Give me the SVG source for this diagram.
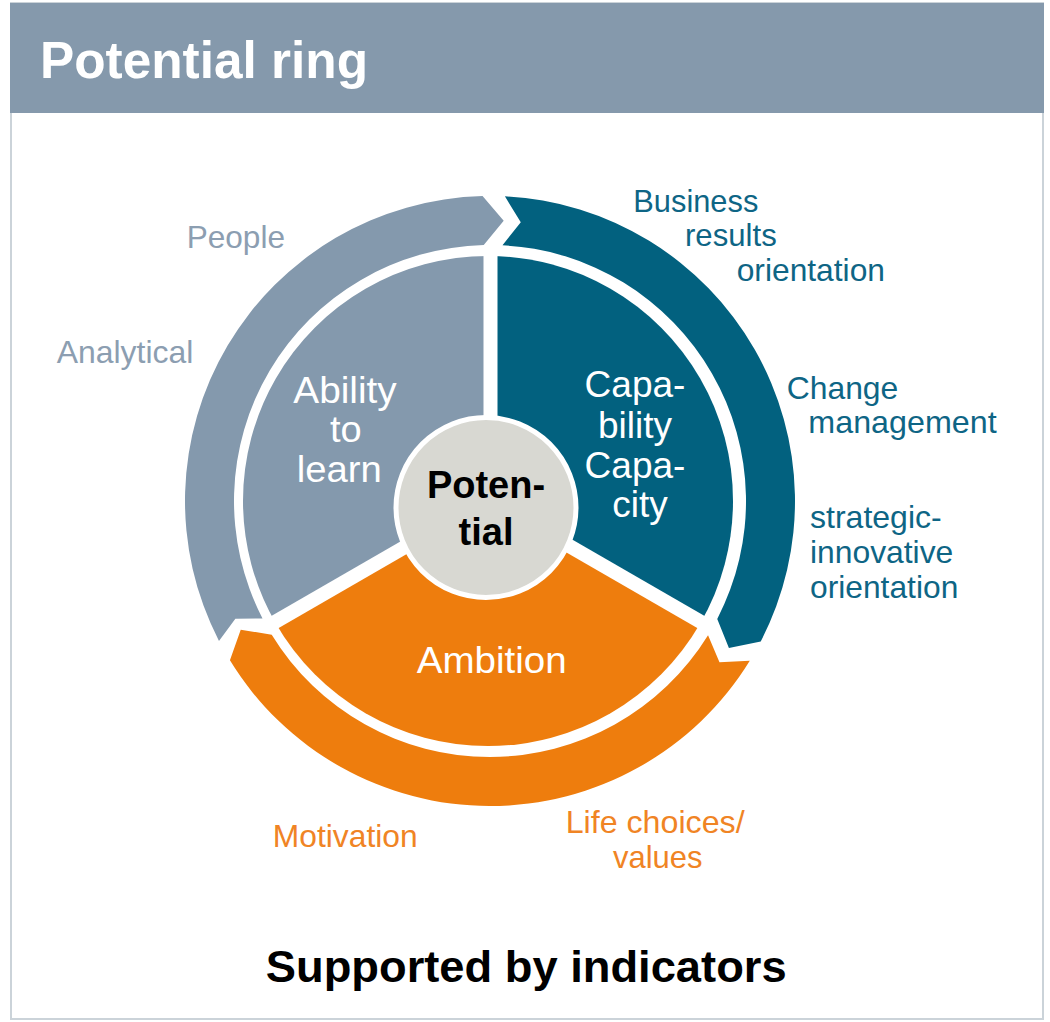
<svg xmlns="http://www.w3.org/2000/svg" width="1050" height="1022" viewBox="0 0 1050 1022">
  <style>
    .lbl { font-family: "Liberation Sans", Arial, sans-serif; font-size: 31.5px; }
    .g-txt { fill: #8C9EB1; }
    .b-txt { fill: #0E6585; }
    .o-txt { fill: #F08424; }
    .inner { font-family: "Liberation Sans", Arial, sans-serif; font-size: 37px; fill: #FFFFFF; }
    .grey { fill: #8499AD; }
    .blue { fill: #02617F; }
    .orange { fill: #EE7D0D; }
    .sep { stroke: #FFFFFF; stroke-width: 14; stroke-linecap: butt; fill: none; }
  </style>

  <!-- frame -->
  <g id="frame">
    <rect x="11" y="3" width="1032" height="1016" fill="#FFFFFF" stroke="#CBD3D9" stroke-width="2"/>
    <rect x="10" y="3" width="1034" height="110" fill="#8599AC"/>
    <text x="40" y="77.5" font-family="Liberation Sans, Arial, sans-serif" font-size="52" font-weight="bold" fill="#FFFFFF" textLength="328" lengthAdjust="spacingAndGlyphs">Potential ring</text>
  </g>

  <!-- ring arrows -->
  <g id="connectors">
    <path id="arrow-grey" class="grey" d="M 218.97 640.89 A 305 305 0 0 1 482.55 196.09 L 503.70 220.83 L 483.75 245.08 A 256 256 0 0 0 262.51 618.41 L 235.37 618.66 Z"/>
    <path id="arrow-blue" class="blue" d="M 504.90 196.36 A 305 305 0 0 1 760.74 641.44 L 728.91 647.98 L 717.25 618.88 A 256 256 0 0 0 502.51 245.30 L 520.78 222.19 Z"/>
    <path id="arrow-orange" class="orange" d="M 749.78 660.82 A 305 305 0 0 1 229.94 660.36 L 240.74 629.65 L 271.72 634.76 A 256 256 0 0 0 708.04 635.14 L 719.49 662.29 Z"/>
  </g>

  <!-- pie sectors -->
  <g id="node-ability">
    <path class="grey" d="M 488 501 L 275.82 623.5 A 245 245 0 0 1 488 256 Z"/>
    <text class="inner" x="293.3" y="402.7" textLength="103.4" lengthAdjust="spacingAndGlyphs">Ability</text>
    <text class="inner" x="330" y="441.7" textLength="31.7" lengthAdjust="spacingAndGlyphs">to</text>
    <text class="inner" x="296.7" y="481.7" textLength="85" lengthAdjust="spacingAndGlyphs">learn</text>
  </g>
  <g id="node-capability">
    <path class="blue" d="M 488 501 L 488 256 A 245 245 0 0 1 700.18 623.5 Z"/>
    <text class="inner" x="635" y="396.7" text-anchor="middle">Capa-</text>
    <text class="inner" x="635" y="438.3" text-anchor="middle">bility</text>
    <text class="inner" x="635" y="478.3" text-anchor="middle">Capa-</text>
    <text class="inner" x="640" y="516.7" text-anchor="middle">city</text>
  </g>
  <g id="node-ambition">
    <path class="orange" d="M 488 501 L 700.18 623.5 A 245 245 0 0 1 275.82 623.5 Z"/>
    <text class="inner" x="416.7" y="673.3" textLength="150" lengthAdjust="spacingAndGlyphs">Ambition</text>
  </g>

  <!-- separators -->
  <g id="separators">
    <line class="sep" x1="490.5" y1="500" x2="490.5" y2="250"/>
    <line class="sep" x1="488" y1="499" x2="267" y2="626.6"/>
    <line class="sep" x1="488" y1="499" x2="709" y2="626.6"/>
  </g>

  <!-- center -->
  <g id="node-potential">
    <circle cx="486" cy="507.5" r="90" fill="#D8D8D2" stroke="#FFFFFF" stroke-width="5"/>
    <text x="486" y="498.3" text-anchor="middle" font-family="Liberation Sans, Arial, sans-serif" font-size="38" font-weight="bold" fill="#000000">Poten-</text>
    <text x="486" y="545" text-anchor="middle" font-family="Liberation Sans, Arial, sans-serif" font-size="38" font-weight="bold" fill="#000000">tial</text>
  </g>

  <!-- indicator labels -->
  <g id="labels-grey" class="lbl g-txt">
    <text x="186.7" y="248.3" textLength="98.3" lengthAdjust="spacingAndGlyphs">People</text>
    <text x="56.7" y="362.7" textLength="136.7" lengthAdjust="spacingAndGlyphs">Analytical</text>
  </g>
  <g id="labels-blue" class="lbl b-txt">
    <text x="633.3" y="211.7" textLength="125" lengthAdjust="spacingAndGlyphs">Business</text>
    <text x="685" y="246.3" textLength="91.7" lengthAdjust="spacingAndGlyphs">results</text>
    <text x="736.7" y="281" textLength="148.3" lengthAdjust="spacingAndGlyphs">orientation</text>
    <text x="786.7" y="399.3" textLength="111.6" lengthAdjust="spacingAndGlyphs">Change</text>
    <text x="808.3" y="433" textLength="188.4" lengthAdjust="spacingAndGlyphs">management</text>
    <text x="810" y="528.3" textLength="131.7" lengthAdjust="spacingAndGlyphs">strategic-</text>
    <text x="810" y="563.3" textLength="143.3" lengthAdjust="spacingAndGlyphs">innovative</text>
    <text x="810" y="598.3" textLength="148.3" lengthAdjust="spacingAndGlyphs">orientation</text>
  </g>
  <g id="labels-orange" class="lbl o-txt">
    <text x="272.8" y="846.7" textLength="144.9" lengthAdjust="spacingAndGlyphs">Motivation</text>
    <text x="565.7" y="832.7" textLength="178.9" lengthAdjust="spacingAndGlyphs">Life choices/</text>
    <text x="613" y="868.3" textLength="89.5" lengthAdjust="spacingAndGlyphs">values</text>
  </g>

  <g id="footer">
    <text x="265.8" y="981.7" font-family="Liberation Sans, Arial, sans-serif" font-size="44" font-weight="bold" fill="#000000" textLength="520.8" lengthAdjust="spacingAndGlyphs">Supported by indicators</text>
  </g>
</svg>
